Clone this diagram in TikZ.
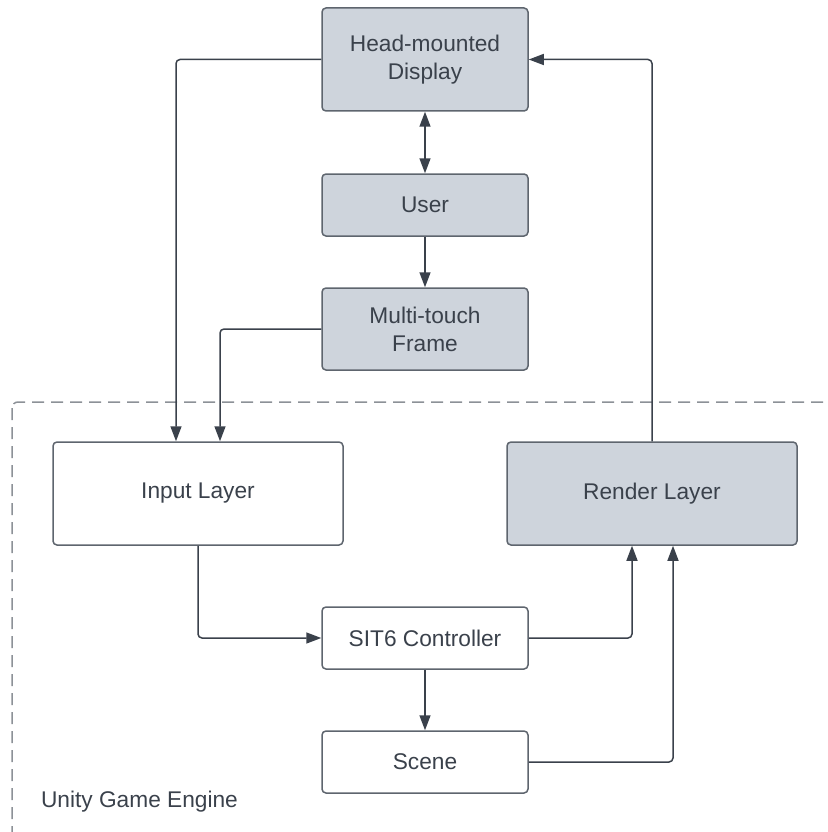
\documentclass[tikz,border=0pt]{standalone}
\usepackage{fontspec}
\setmainfont{Liberation Sans}
\usetikzlibrary{arrows.meta}

\definecolor{boxgray}{HTML}{CED4DC}
\definecolor{edgegray}{HTML}{5E656E}
\definecolor{inkgray}{HTML}{3A414B}
\definecolor{dashgray}{HTML}{8C9197}

\begin{document}
\begin{tikzpicture}[x=1pt,y=-1pt,line width=1.5pt,
  >={Triangle[length=15pt,width=11pt]},
  box/.style={draw=edgegray,fill=white,rounded corners=4pt,text=inkgray,
    align=center,inner sep=0pt,font=\fontsize{22.7}{28}\selectfont},
  graybox/.style={box,fill=boxgray},
  conn/.style={->,draw=inkgray,rounded corners=4pt}]
  \clip (0,0) rectangle (827,832);
  % engine frame
  \draw[dashgray,dash pattern=on 12pt off 7pt,rounded corners=6pt] (12,402) rectangle (850,860);
  \node[anchor=west,text=inkgray,font=\fontsize{22.7}{28}\selectfont] (engine) at (37,802) {Unity Game Engine};
  % boxes
  \node[graybox,minimum width=206pt,minimum height=103pt] (hmd) at (425,59.5) {Head-mounted\\Display};
  \node[graybox,minimum width=206pt,minimum height=62pt] (user) at (425,205) {User};
  \node[graybox,minimum width=206pt,minimum height=82pt] (touch) at (425,329) {Multi-touch\\Frame};
  \node[box,minimum width=290pt,minimum height=103pt] (input) at (198,493.5) {Input Layer};
  \node[graybox,minimum width=290pt,minimum height=103pt] (render) at (652,493.5) {Render Layer};
  \node[box,minimum width=206pt,minimum height=62pt] (ctrl) at (425,638) {SIT6 Controller};
  \node[box,minimum width=206pt,minimum height=62pt] (scene) at (425,762) {Scene};
  % connectors
  \draw[conn] (hmd.west) -| ([xshift=-22pt]input.north);
  \draw[conn] (touch.west) -| ([xshift=22pt]input.north);
  \draw[conn,<->] (hmd.south) -- (user.north);
  \draw[conn] (user.south) -- (touch.north);
  \draw[conn] (render.north) |- (hmd.east);
  \draw[conn] (input.south) |- (ctrl.west);
  \draw[conn] (ctrl.east) -| ([xshift=-20pt]render.south);
  \draw[conn] (ctrl.south) -- (scene.north);
  \draw[conn] (scene.east) -| ([xshift=21pt]render.south);
\end{tikzpicture}
\end{document}
